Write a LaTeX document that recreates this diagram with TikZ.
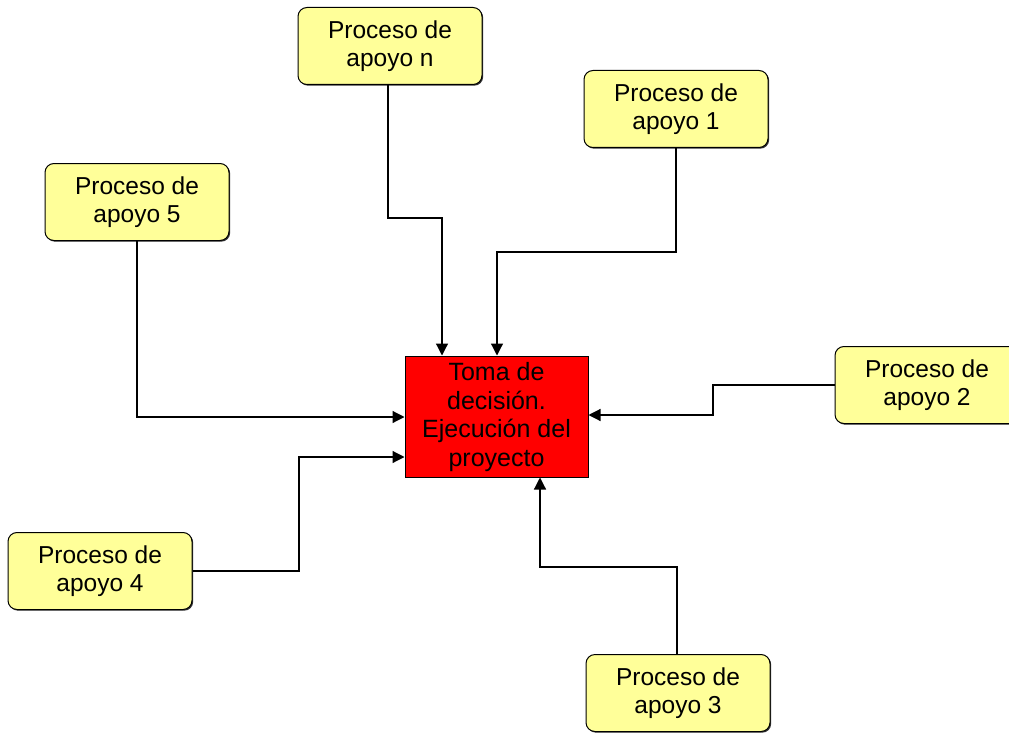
\documentclass[tikz,border=0pt]{standalone}
\usepackage{fontspec}
\setmainfont{Liberation Sans}
\usetikzlibrary{arrows.meta,shadows}
\definecolor{boxyellow}{RGB}{255,255,153}
\definecolor{boxred}{RGB}{255,0,0}
\tikzset{
  apoyo/.style={draw=black, line width=1pt, fill=boxyellow, rounded corners=9pt,
    minimum width=184pt, minimum height=77pt, align=center, inner sep=0pt,
    font=\fontsize{24.5}{28.5}\selectfont,
    drop shadow={shadow xshift=1.2pt, shadow yshift=-1.2pt, fill=black!80, opacity=1}},
  centro/.style={draw=black, line width=1pt, fill=boxred, minimum width=183pt,
    minimum height=121pt, align=center, inner sep=0pt,
    font=\fontsize{25}{28.5}\selectfont},
  flujo/.style={draw=black, line width=1.2pt,
    -{Triangle[length=12pt,width=12pt]}}
}
\begin{document}
\begin{tikzpicture}[x=1pt,y=-1pt]
\useasboundingbox (0,0) rectangle (1009,733);
\clip (0,0) rectangle (1009,733);
% central activity, text set slightly low in the box
\node[centro, text depth=4pt] (toma) at (496.5,416.5) {Toma de\\decisión.\\Ejecución del\\proyecto};
% support processes
\node[apoyo] (pn) at (390,46) {Proceso de\\apoyo n};
\node[apoyo] (p1) at (676,109) {Proceso de\\apoyo 1};
\node[apoyo] (p5) at (137,202) {Proceso de\\apoyo 5};
\node[apoyo] (p2) at (927,385) {Proceso de\\apoyo 2};
\node[apoyo] (p4) at (100,571) {Proceso de\\apoyo 4};
\node[apoyo] (p3) at (678,693) {Proceso de\\apoyo 3};
% bend points of the connectors
\coordinate (an) at (388,218);
\coordinate (bn) at (442,218);
\coordinate (a1) at (676,252);
\coordinate (b1) at (497,252);
\coordinate (a2) at (713,385);
\coordinate (b2) at (713,415);
\coordinate (a4) at (299,571);
\coordinate (b4) at (299,457);
\coordinate (a3) at (677,567);
\coordinate (b3) at (540,567);
% connectors
\draw[flujo] (pn.south -| an) -- (an) -- (bn) -- (bn |- toma.north);
\draw[flujo] (p1.south -| a1) -- (a1) -- (b1) -- (b1 |- toma.north);
\draw[flujo] (p5.south) -- (p5.south |- 0,417) -- (toma.west |- 0,417);
\draw[flujo] (p2.west |- a2) -- (a2) -- (b2) -- (b2 -| toma.east);
\draw[flujo] (p4.east) -- (a4) -- (b4) -- (b4 -| toma.west);
\draw[flujo] (p3.north -| a3) -- (a3) -- (b3) -- (b3 |- toma.south);
\end{tikzpicture}
\end{document}
